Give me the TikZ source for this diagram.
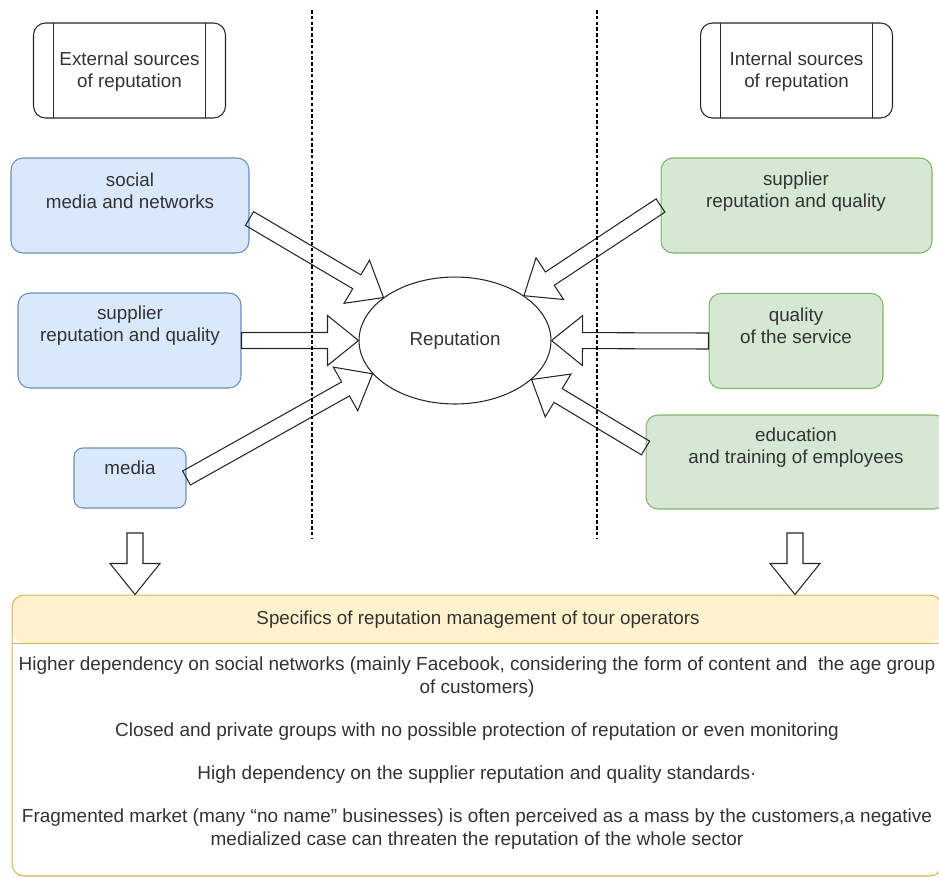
\documentclass[tikz,border=0pt]{standalone}
\usepackage{fontspec}
\setmainfont{Liberation Sans}
\usetikzlibrary{calc,shapes.geometric}

\definecolor{blueFill}{HTML}{DAE8FC}
\definecolor{blueLine}{HTML}{6C8EBF}
\definecolor{greenFill}{HTML}{D5E8D4}
\definecolor{greenLine}{HTML}{82B366}
\definecolor{yellowFill}{HTML}{FFF2CC}
\definecolor{yellowLine}{HTML}{D6B656}
\definecolor{textGray}{HTML}{333333}

\tikzset{
  every node/.style={font=\fontsize{10.7pt}{12.6pt}\selectfont, text=textGray},
  boxtext/.style={align=center, inner sep=0pt},
  procbox/.style={draw=black!85, line width=0.6pt, rounded corners=6.8pt,
    minimum width=3.84cm, minimum height=1.9cm, align=center,
    path picture={
      \draw[black!85, line width=0.6pt] ([xshift=0.4cm]path picture bounding box.north west) -- ([xshift=0.4cm]path picture bounding box.south west);
      \draw[black!85, line width=0.6pt] ([xshift=-0.4cm]path picture bounding box.north east) -- ([xshift=-0.4cm]path picture bounding box.south east);}},
  bluebox/.style={draw=blueLine, fill=blueFill, line width=0.6pt, rounded corners=6.8pt, minimum height=1.9cm},
  greenbox/.style={draw=greenLine, fill=greenFill, line width=0.6pt, rounded corners=6.8pt, minimum height=1.9cm},
  flexline/.style={draw=black!85, line width=0.6pt, line join=miter},
  sepline/.style={black, line width=0.6pt, dash pattern=on 2pt off 1.3pt}
}

\newcommand{\flexarrow}[2]{%
  \path ($(#2)!0.62cm!(#1)$) coordinate (fa-c);
  \draw[flexline] ($(#1)!0.16cm!90:(#2)$) -- ($(fa-c)!0.16cm!-90:(#1)$) -- ($(fa-c)!0.5cm!-90:(#1)$) -- (#2)
    -- ($(fa-c)!0.5cm!90:(#1)$) -- ($(fa-c)!0.16cm!90:(#1)$) -- ($(#1)!0.16cm!-90:(#2)$) -- cycle;}

\begin{document}
\begin{tikzpicture}[x=0.02cm,y=-0.02cm]
        \useasboundingbox (0,0) rectangle (939,877);

        \coordinate (sepLa) at (312,10);
        \coordinate (sepLb) at (312,538);
        \coordinate (sepRa) at (597,10);
        \coordinate (sepRb) at (597,538);

        \node[procbox] (ext) at (129.5,70.5) {};
        \node[procbox] (int) at (796.5,70.5) {};
        \node[boxtext] (extT) at (129.5,72) {External sources\\of reputation};
        \node[boxtext] (intT) at (796.5,72) {Internal sources\\of reputation};

        \node[draw=black!85, line width=0.6pt, ellipse, minimum width=3.84cm, minimum height=2.54cm] (rep) at (455,340.5) {Reputation};

        \node[bluebox, minimum width=4.76cm] (social) at (130,205.5) {};
        \node[bluebox, minimum width=4.46cm] (suppL) at (129.5,340.5) {};
        \node[bluebox, minimum width=2.24cm, minimum height=1.2cm, rounded corners=5pt] (media) at (130,478) {};
        \node[boxtext] (socialT) at (130,191) {social\\media and networks};
        \node[boxtext] (suppLT) at (130,326) {supplier\\reputation and quality};
        \node[boxtext] (mediaT) at (130,468) {media};

        \node[greenbox, minimum width=5.42cm] (suppR) at (796.5,205.5) {};
        \node[greenbox, minimum width=3.48cm] (quality) at (796,341) {};
        \node[greenbox, minimum width=6cm, minimum height=1.88cm] (educ) at (796,462) {};
        \node[boxtext] (suppRT) at (796,191.5) {supplier\\reputation and quality};
        \node[boxtext] (qualityT) at (796,325.5) {quality\\of the service};
        \node[boxtext] (educT) at (796,448) {education\\and training of employees};

        \node[draw=yellowLine, line width=0.6pt, rounded corners=6.8pt, fill=white,
              minimum width=18.6cm, minimum height=5.62cm,
              path picture={
                \fill[yellowFill] (path picture bounding box.north west) rectangle ([yshift=-0.96cm]path picture bounding box.north east);
                \draw[yellowLine, line width=0.6pt] ([yshift=-0.96cm]path picture bounding box.north west) -- ([yshift=-0.96cm]path picture bounding box.north east);}]
              (spec) at (477,735.5) {};
        \node[boxtext] (specT) at (478,620) {Specifics of reputation management of tour operators};
        \node[boxtext, font=\fontsize{10.8pt}{13pt}\selectfont] (specB) at (477,753) {Higher dependency on social networks (mainly Facebook, considering the form of content and\ \ the age group\\of customers)\\[11.5pt]
          Closed and private groups with no possible protection of reputation or even monitoring\\[11.5pt]
          High dependency on the supplier reputation and quality standards·\\[11.5pt]
          Fragmented market (many “no name” businesses) is often perceived as a mass by the customers,a negative\\medialized case can threaten the reputation of the whole sector};

        \coordinate (tSocial) at ($(social.east)+(0,13)$);
        \coordinate (tEduc) at ($(educ.west)+(0,-14)$);
        \coordinate (dL) at (135,533);
        \coordinate (dR) at (795,533);
        \coordinate (dLt) at (dL |- spec.north);
        \coordinate (dRt) at (dR |- spec.north);

        \flexarrow{tSocial}{rep.149}
        \flexarrow{suppL.east}{rep.west}
        \flexarrow{media.east}{rep.202}
        \flexarrow{suppR.west}{rep.33}
        \flexarrow{quality.west}{rep.east}
        \flexarrow{tEduc}{rep.333}
        \flexarrow{dL}{dLt}
        \flexarrow{dR}{dRt}

        \draw[sepline] (sepLa) -- (sepLb);
        \draw[sepline] (sepRa) -- (sepRb);
    \end{tikzpicture}
\end{document}
